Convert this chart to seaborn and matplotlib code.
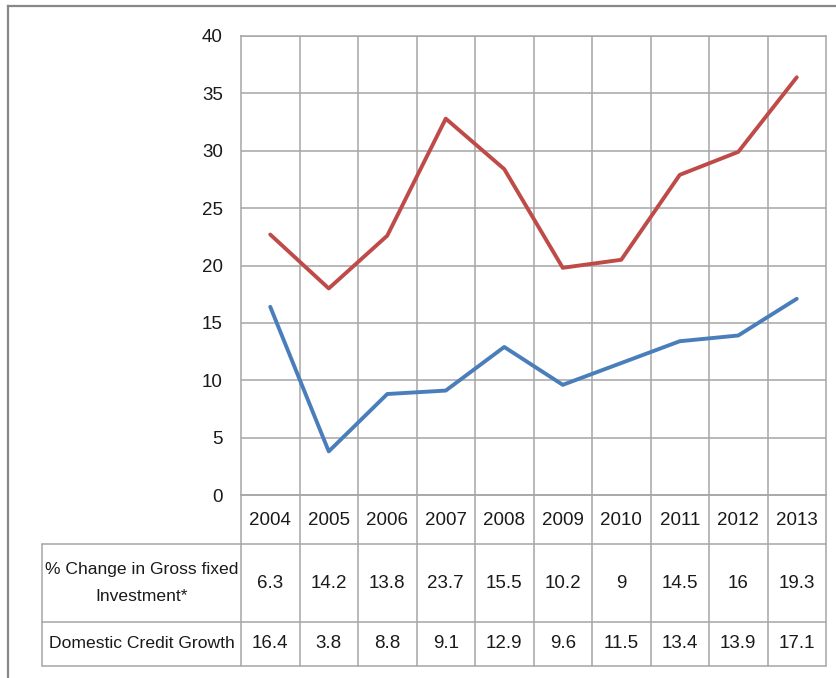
import numpy as np
import pandas as pd
import matplotlib
matplotlib.use("Agg")
import matplotlib.pyplot as plt
import seaborn as sns

# data (stacked line chart)
years = ["2004", "2005", "2006", "2007", "2008", "2009", "2010", "2011", "2012", "2013"]
gross_fixed = [6.3, 14.2, 13.8, 23.7, 15.5, 10.2, 9, 14.5, 16, 19.3]
credit_growth = [16.4, 3.8, 8.8, 9.1, 12.9, 9.6, 11.5, 13.4, 13.9, 17.1]
row_labels = ["% Change in Gross fixed\nInvestment*", "Domestic Credit Growth"]
y_ticks = [0, 5, 10, 15, 20, 25, 30, 35, 40]

BLUE = "#4a7ebb"
RED = "#be4b48"
GRID = "#a6a6a6"
FONT = ["Liberation Sans", "DejaVu Sans"]

sns.set_style("white")
plt.rcParams["font.family"] = FONT

W, H = 836, 678
fig = plt.figure(figsize=(W / 100, H / 100), dpi=100)


def px_axes(x0, y0, x1, y1):
    # axes from pixel box (top-left origin)
    return fig.add_axes([x0 / W, 1 - y1 / H, (x1 - x0) / W, (y1 - y0) / H])


# outer chart frame
frame = px_axes(8, 6, W + 10, H + 10)
frame.set_xticks([])
frame.set_yticks([])
for s in frame.spines.values():
    s.set_color("#888888")
    s.set_linewidth(1.6)
frame.patch.set_alpha(0)

df = pd.DataFrame({
    "year": years,
    "credit": credit_growth,
    "stacked": np.array(credit_growth) + np.array(gross_fixed),
})
df["x"] = np.arange(len(years))

# main plot area
ax = px_axes(241, 36, 826, 495)
sns.lineplot(data=df, x="x", y="credit", ax=ax, color=BLUE, lw=2.8)
sns.lineplot(data=df, x="x", y="stacked", ax=ax, color=RED, lw=2.8)
ax.set_xlim(-0.5, len(years) - 0.5)
ax.set_ylim(0, 40)
ax.set_yticks(y_ticks)
ax.set_yticklabels([str(t) for t in y_ticks], fontsize=13.5, color="#1a1a1a")
ax.tick_params(axis="y", length=0, pad=13)
ax.set_xticks([])
ax.set_xlabel("")
ax.set_ylabel("")
for t in y_ticks[1:]:
    ax.axhline(t, color=GRID, lw=1.1, zorder=0)
for b in np.arange(0.5, len(years) - 0.5):
    ax.axvline(b, color=GRID, lw=1.1, zorder=0)
for s in ax.spines.values():
    s.set_color(GRID)
    s.set_linewidth(1.1)

# data table under the plot
col_w = 585 / len(years)
tab = px_axes(42, 495, 826, 666)
left_x = -0.5 - (241 - 42) / col_w
tab.set_xlim(left_x, len(years) - 0.5)
tab.set_ylim(666, 495)
tab.axis("off")

r0, r1, r2, r3 = 495, 544, 622, 666
lkw = dict(color=GRID, lw=1.1, clip_on=False)
tab.plot([-0.5, len(years) - 0.5], [r0, r0], **lkw)
tab.plot([left_x, len(years) - 0.5], [r1, r1], **lkw)
tab.plot([left_x, len(years) - 0.5], [r2, r2], **lkw)
tab.plot([left_x, len(years) - 0.5], [r3, r3], **lkw)
tab.plot([left_x, left_x], [r1, r3], **lkw)
for b in np.arange(-0.5, len(years)):
    tab.plot([b, b], [r0, r3], **lkw)

tkw = dict(ha="center", va="center", fontsize=13.5, color="#1a1a1a")
for i, yr in enumerate(years):
    tab.text(i, (r0 + r1) / 2 + 1, yr, **tkw)
    tab.text(i, (r1 + r2) / 2, f"{gross_fixed[i]:g}", **tkw)
    tab.text(i, (r2 + r3) / 2, f"{credit_growth[i]:g}", **tkw)
mid_label = (left_x - 0.5) / 2
lab_kw = dict(tkw, fontsize=12.6)
tab.text(mid_label, (r1 + r2) / 2, row_labels[0], linespacing=2.0, **lab_kw)
tab.text(mid_label, (r2 + r3) / 2, row_labels[1], **lab_kw)

fig.savefig("out.png", dpi=100)
